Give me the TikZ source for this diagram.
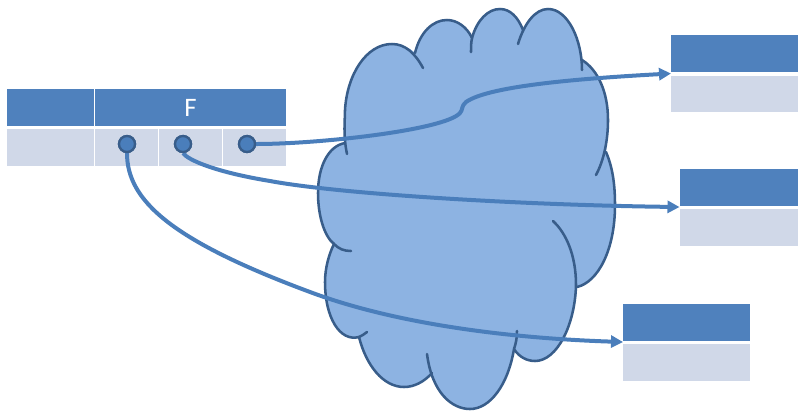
\documentclass[tikz,border=0pt]{standalone}
\usepackage{fontspec}
\setmainfont{Carlito}
\usetikzlibrary{arrows.meta}
\definecolor{headblue}{HTML}{4F81BD}
\definecolor{bodyblue}{HTML}{D0D8E8}
\definecolor{cloudfill}{HTML}{8DB3E2}
\definecolor{cloudline}{HTML}{385D8A}
\definecolor{linkblue}{HTML}{4A7EBB}
\tikzset{
  px/.style={x=0.75pt,y=-0.75pt},
  headcell/.style={fill=headblue,draw=none},
  bodycell/.style={fill=bodyblue,draw=none},
  cloudarc/.style={draw=cloudline,line width=1.9pt,line cap=round,fill=none},
  dot/.style={circle,fill=linkblue,draw=cloudline,line width=1.7pt,minimum size=12pt,inner sep=0pt},
  link/.style={draw=linkblue,line width=3pt,-{Triangle[length=9pt,width=9pt]}},
  cell/.style={rectangle,inner sep=0pt,outer sep=0pt,anchor=north west}
}
\newcommand{\cellat}[6]{\node[cell,#1,minimum width=#4*0.75pt,minimum height=#5*0.75pt] (#2) at (#3) {#6};}
\begin{document}
\begin{tikzpicture}[px]
\useasboundingbox (0,0) rectangle (798,411);
% left table
\cellat{headcell}{ha}{7,89}{87}{37}{}
\cellat{headcell}{hb}{95,89}{191}{37}{}
\cellat{bodycell}{ba}{7,129}{87}{37}{}
\cellat{bodycell}{bb}{95,129}{63}{37}{}
\cellat{bodycell}{bc}{159,129}{63}{37}{}
\cellat{bodycell}{bd}{223,129}{63}{37}{}
\node[text=white,font=\fontsize{20pt}{22pt}\selectfont] (f) at (190.5,107.5) {F};
% right tables
\cellat{headcell}{ta}{671,35}{127}{37}{}
\cellat{bodycell}{tb}{671,76}{127}{36}{}
\cellat{headcell}{ua}{679.5,169}{118.5}{36.5}{}
\cellat{bodycell}{ub}{679.5,209}{118.5}{37}{}
\cellat{headcell}{va}{623,304}{127}{36.5}{}
\cellat{bodycell}{vb}{623,344}{127}{37}{}
% cloud fill
\fill[cloudfill] (345,143) -- (345,110) .. controls (347,75) and (366,44) .. (392,44)
  .. controls (400,44) and (409,47) .. (415,53)
  .. controls (420,32) and (433,20) .. (447,20)
  .. controls (457,20) and (467,27) .. (472,38)
  .. controls (477,20) and (488,9) .. (500,9)
  .. controls (510,9) and (518,17) .. (523,30)
  .. controls (528,17) and (537,9) .. (548,9)
  .. controls (566,9) and (580,34) .. (582,60)
  .. controls (598,70) and (608,92) .. (608,120)
  .. controls (608,131) and (607,142) .. (606,152)
  .. controls (612,166) and (615,182) .. (615,205)
  .. controls (615,250) and (598,282) .. (577,287)
  .. controls (575,325) and (557,361) .. (535,361)
  .. controls (527,361) and (519,357) .. (514,349)
  .. controls (508,385) and (490,409) .. (470,409)
  .. controls (452,409) and (437,393) .. (432,373)
  .. controls (424,382) and (414,387) .. (404,387)
  .. controls (383,387) and (366,365) .. (359,337)
  .. controls (340,342) and (325,318) .. (325,282)
  .. controls (325,268) and (329,254) .. (334,244)
  .. controls (324,236) and (318,215) .. (318,193)
  .. controls (318,167) and (328,146) .. (345,143) -- cycle;
% cloud outline
\draw[cloudarc] (347,154) .. controls (343,135) and (345,120) .. (345,110) .. controls (347,75) and (366,44) .. (392,44) .. controls (405,44) and (415,53) .. (423,68);
\draw[cloudarc] (415,53) .. controls (420,32) and (433,20) .. (447,20) .. controls (457,20) and (467,27) .. (472,38) .. controls (471,43) and (471,47) .. (471,52);
\draw[cloudarc] (472,38) .. controls (477,20) and (488,9) .. (500,9) .. controls (510,9) and (518,17) .. (523,30);
\draw[cloudarc] (518,44) .. controls (524,24) and (535,9) .. (548,9) .. controls (568,9) and (582,40) .. (582,70);
\draw[cloudarc] (582,60) .. controls (598,70) and (608,92) .. (608,120) .. controls (608,140) and (604,160) .. (596,175);
\draw[cloudarc] (606,152) .. controls (612,166) and (615,182) .. (615,205) .. controls (615,250) and (598,282) .. (577,287);
\draw[cloudarc] (553,221) .. controls (566,233) and (576,255) .. (576,285) .. controls (575,325) and (557,361) .. (535,361) .. controls (527,361) and (519,357) .. (514,349);
\draw[cloudarc] (517,331) .. controls (517,338) and (516,343) .. (514,349) .. controls (508,385) and (490,409) .. (470,409) .. controls (452,409) and (432,393) .. (427,354);
\draw[cloudarc] (432,373) .. controls (424,382) and (414,387) .. (404,387) .. controls (383,387) and (366,365) .. (359,337) .. controls (362,336) and (364,334) .. (367,332);
\draw[cloudarc] (359,337) .. controls (340,342) and (325,318) .. (325,282) .. controls (325,268) and (329,254) .. (334,244) .. controls (339,249) and (344,251) .. (351,251);
\draw[cloudarc] (334,244) .. controls (324,236) and (318,215) .. (318,193) .. controls (318,167) and (328,146) .. (345,143);
% connectors
\node[dot] (da) at (127,144) {};
\node[dot] (db) at (183,144) {};
\node[dot] (dc) at (247,144) {};
\coordinate (ea) at (671,73.5);
\coordinate (eb) at (679.5,207);
\coordinate (ec) at (623,342);
\draw[link] (dc.east) .. controls (320,144) and (445,130) .. (460,113) .. controls (463,110) and (461,106) .. (466,102) .. controls (490,85) and (590,78) .. (ea);
\draw[link] (db.south) .. controls (188,160) and (215,172) .. (270,181) .. controls (340,194) and (520,205) .. (eb);
\draw[link] (da.south) .. controls (127,200) and (170,240) .. (310,292) .. controls (390,322) and (500,338) .. (ec);
\node[dot] at (da) {};
\node[dot] at (db) {};
\node[dot] at (dc) {};
\end{tikzpicture}
\end{document}
